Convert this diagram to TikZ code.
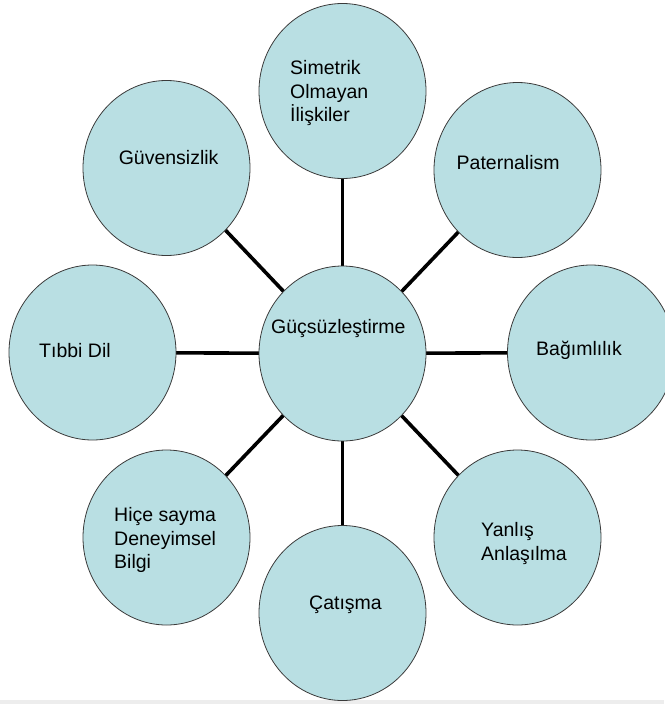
\documentclass[tikz,border=0pt]{standalone}
\usepackage{fontspec}
\setmainfont{Liberation Sans}
\usetikzlibrary{shapes.geometric}
\definecolor{bubble}{HTML}{B9DFE3}
\definecolor{rim}{HTML}{3A3A3A}
\begin{document}
\begin{tikzpicture}[x=1pt,y=-1pt,
  bub/.style={ellipse,draw=rim,line width=0.8pt,fill=bubble,minimum width=167pt,minimum height=175pt,inner sep=0pt},
  txt/.style={anchor=west,align=left,inner sep=0pt,font=\fontsize{19.5}{23.5}\selectfont},
  link/.style={line width=3.6pt,black}]
\useasboundingbox (0,0) rectangle (664,704);
\fill[black!7] (0,700) rectangle (664,704);
% links first (as coordinates), then bubbles on top
\coordinate (pc) at (342.5,353.5);
\coordinate (ptop) at (342.5,91);
\coordinate (pguv) at (166.5,168);
\coordinate (ppat) at (517.5,170);
\coordinate (ptib) at (92.5,352.5);
\coordinate (pbag) at (591,352.5);
\coordinate (phic) at (166.5,537.5);
\coordinate (pyan) at (517.5,537.5);
\coordinate (pcat) at (342.5,613);
\foreach \p in {ptop,pguv,ppat,ptib,pbag,phic,pyan,pcat}
  \draw[link] (pc) -- (\p);
\node[bub] (c) at (pc) {};
\node[bub] (top) at (ptop) {};
\node[bub] (guv) at (pguv) {};
\node[bub] (pat) at (ppat) {};
\node[bub] (tib) at (ptib) {};
\node[bub] (bag) at (pbag) {};
\node[bub] (hic) at (phic) {};
\node[bub] (yan) at (pyan) {};
\node[bub] (cat) at (pcat) {};
\node[txt] (tc) at (271,328) {Güçsüzleştirme};
\node[txt] (ttop) at (290,93) {Simetrik\\Olmayan\\İlişkiler};
\node[txt] (tguv) at (118.6,158) {Güvensizlik};
\node[txt] (tpat) at (456.5,163) {Paternalism};
\node[txt] (ttib) at (39,351) {Tıbbi Dil};
\node[txt] (tbag) at (536,350) {Bağımlılık};
\node[txt] (thic) at (114,540) {Hiçe sayma\\Deneyimsel\\Bilgi};
\node[txt] (tyan) at (481,543.5) {Yanlış\\Anlaşılma};
\node[txt] (tcat) at (309,605) {Çatışma};
\end{tikzpicture}
\end{document}
